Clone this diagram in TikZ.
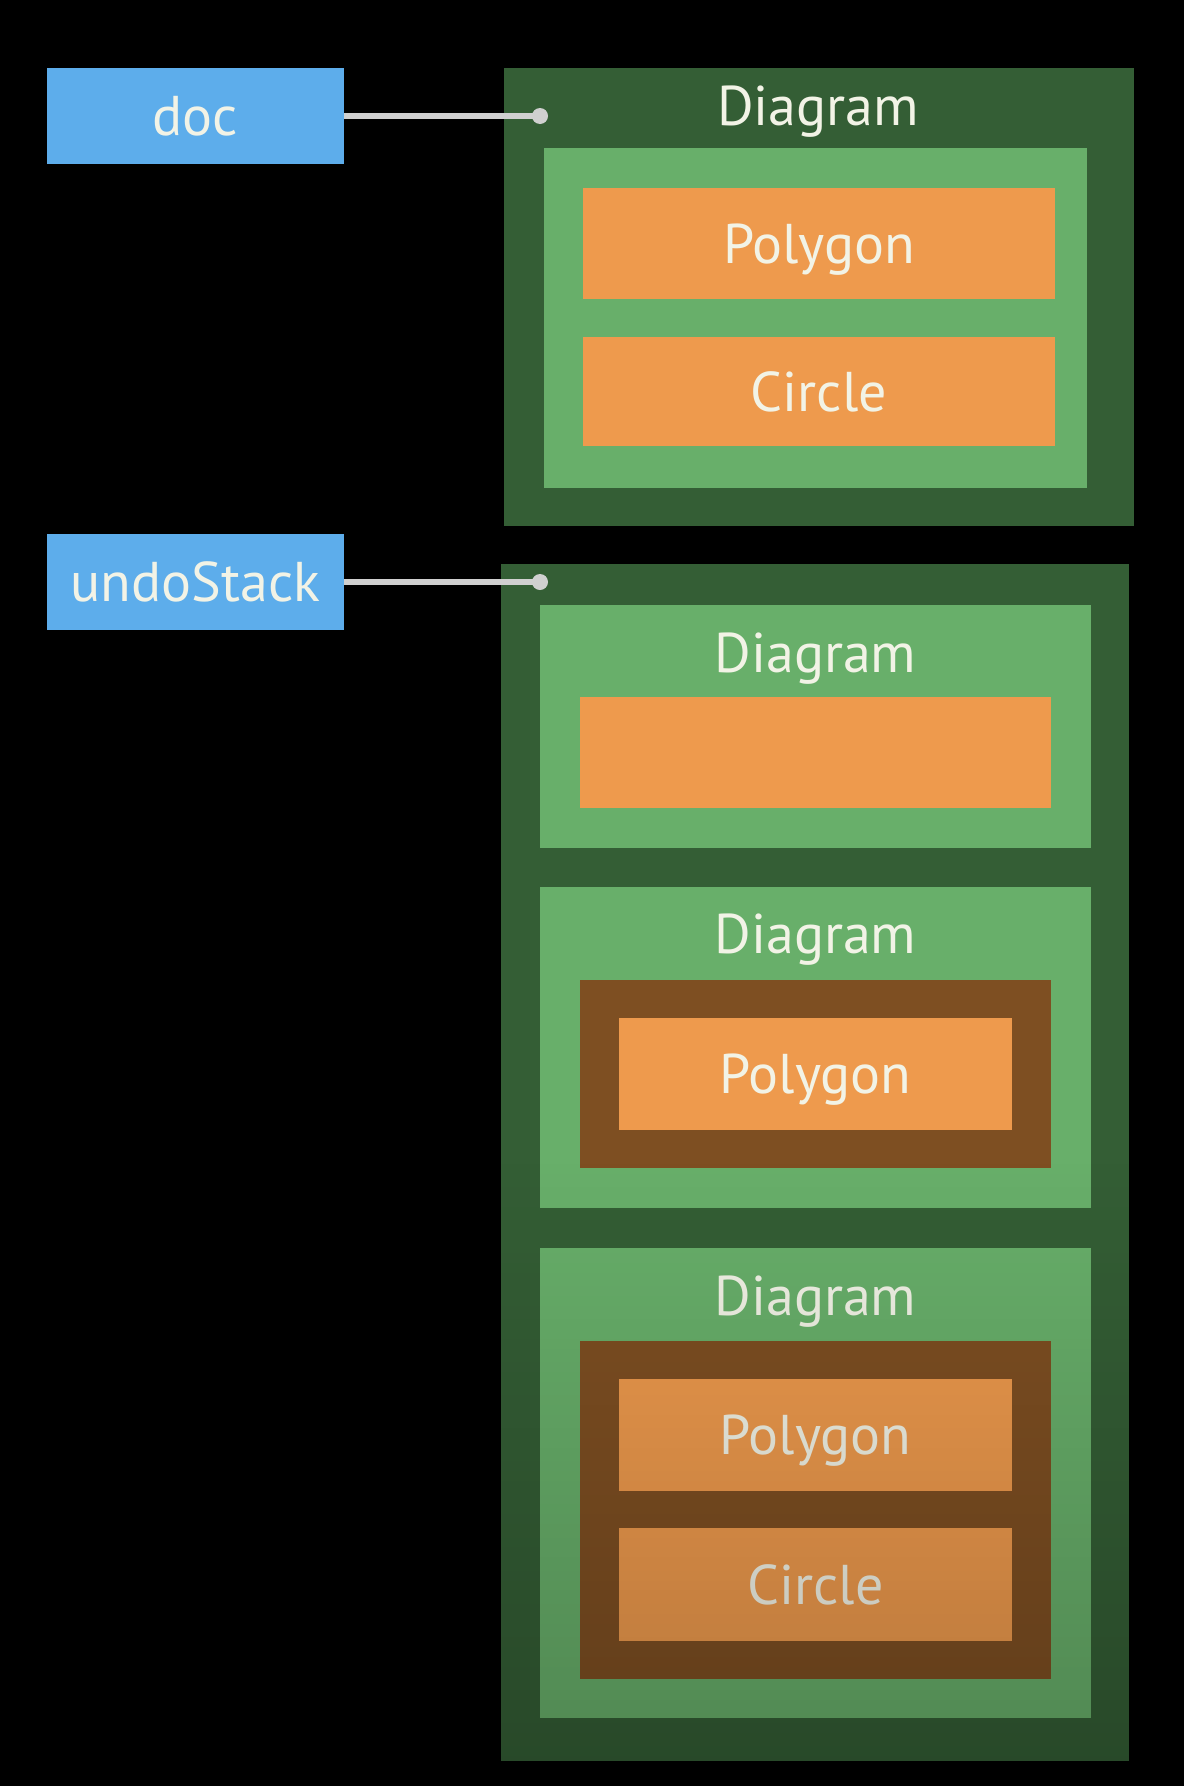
\documentclass[tikz,border=0pt]{standalone}
\usepackage{fontspec}
\setmainfont{PT Sans}
\usetikzlibrary{fadings}
\definecolor{refblue}{HTML}{5DADEB}
\definecolor{dkgreen}{HTML}{345E35}
\definecolor{ltgreen}{HTML}{68AF6A}
\definecolor{orng}{HTML}{EE9A4D}
\definecolor{brwn}{HTML}{7E4F22}
\definecolor{txtcol}{HTML}{F2F3E6}
\definecolor{wire}{HTML}{D0D0D0}
\tikzfading[name=darkdown, top color=transparent!100, bottom color=transparent!0]
\tikzset{
  rbox/.style={rectangle, inner sep=0pt, draw=none, text=txtcol,
    font=\fontsize{56}{66}\selectfont, text height=39pt, text depth=0pt},
  lbl/.style={inner sep=0pt, anchor=base, text=txtcol, font=\fontsize{56}{66}\selectfont},
  conn/.style={draw=wire, line width=6pt},
  dotend/.style={fill=wire}
}
\begin{document}
\begin{tikzpicture}[x=1pt, y=-1pt]
\useasboundingbox (0,0) rectangle (1184,1786);
\fill[black] (0,0) rectangle (1184,1786);

% variables
\node[rbox, fill=refblue, minimum width=297pt, minimum height=96pt] (doc) at (195.5,116) {doc};
\node[rbox, fill=refblue, minimum width=297pt, minimum height=96pt] (undo) at (195.5,582) {undoStack};

% current document
\node[rbox, fill=dkgreen, minimum width=630pt, minimum height=458pt] (outA) at (819,297) {};
\node[lbl] (labA) at (818,125) {Diagram};
\node[rbox, fill=ltgreen, minimum width=543pt, minimum height=340pt] (grA) at (815.5,318) {};
\node[rbox, fill=orng, minimum width=472pt, minimum height=111pt] (polyA) at (819,243.5) {Polygon};
\node[rbox, fill=orng, minimum width=472pt, minimum height=109pt] (circA) at (819,391.5) {Circle};

% undo stack
\node[rbox, fill=dkgreen, minimum width=628pt, minimum height=1197pt] (outB) at (815,1162.5) {};

\node[rbox, fill=ltgreen, minimum width=551pt, minimum height=243pt] (d1) at (815.5,726.5) {};
\node[lbl] (lab1) at (815.5,672) {Diagram};
\node[rbox, fill=orng, minimum width=471pt, minimum height=111pt] (o1) at (815.5,752.5) {};

\node[rbox, fill=ltgreen, minimum width=551pt, minimum height=321pt] (d2) at (815.5,1047.5) {};
\node[lbl] (lab2) at (815.5,953) {Diagram};
\node[rbox, fill=brwn, minimum width=471pt, minimum height=188pt] (b2) at (815.5,1074) {};
\node[rbox, fill=orng, minimum width=393pt, minimum height=112pt] (poly2) at (815.5,1074) {Polygon};

\node[rbox, fill=ltgreen, minimum width=551pt, minimum height=470pt] (d3) at (815.5,1483) {};
\node[lbl] (lab3) at (815.5,1315) {Diagram};
\node[rbox, fill=brwn, minimum width=471pt, minimum height=338pt] (b3) at (815.5,1510) {};
\node[rbox, fill=orng, minimum width=393pt, minimum height=112pt] (poly3) at (815.5,1435) {Polygon};
\node[rbox, fill=orng, minimum width=393pt, minimum height=113pt] (circ3) at (815.5,1584.5) {Circle};

% connectors
\coordinate (docend) at (540,116);
\coordinate (undoend) at (540,582);
\draw[conn] (doc.east) -- (docend);
\fill[dotend] (docend) circle (8pt);
\draw[conn] (undo.east) -- (undoend);
\fill[dotend] (undoend) circle (8pt);

% fade towards the bottom
\fill[black, fill opacity=0.3, path fading=darkdown] (0,1160) rectangle (1184,2000);
\end{tikzpicture}
\end{document}
